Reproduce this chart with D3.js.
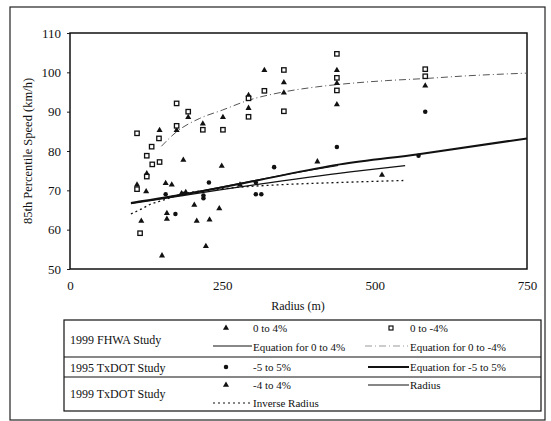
<!DOCTYPE html>
<meta charset="utf-8">
<style>
body { margin: 0; background: #fff; }
text { font-family: "Liberation Serif", "DejaVu Serif", serif; fill: #111; }
</style>
<svg width="551" height="421"></svg>
<script src="https://d3js.org/d3.v7.min.js"></script>
<script>

// tick values
var xTicks = [0, 250, 500, 750];
var yTicks = [50, 60, 70, 80, 90, 100, 110];

// 1999 FHWA study, 0 to 4% (triangles)
var fhwaPos = [[110,71.4],[125,69.7],[117,62.2],[126,74.3],[147,85.3],[157,71.8],[167,71.4],
  [159,64.2],[159,62.7],[151,53.4],[175,85.3],[186,77.7],[194,88.6],[204,66.3],[208,62.2],
  [218,86.9],[223,55.8],[229,62.5],[245,65.4],[249,76.2],[251,88.6],[293,94.2],[293,90.9],
  [319,100.5],[351,97.4],[351,94.8],[438,100.5],[438,91.8],[583,96.6]];

// 1999 FHWA study, 0 to -4% (open squares)
var fhwaNeg = [[110,84.5],[110,70.3],[115,59.1],[126,78.8],[126,73.5],[134,81.1],[135,76.6],
  [146,83.2],[147,77.2],[175,92.1],[175,86.4],[194,90.0],[218,85.4],[251,85.4],[293,93.4],
  [293,88.7],[319,95.3],[351,100.6],[351,90.1],[438,104.7],[438,98.6],[438,95.4],
  [583,100.8],[583,99.0]];

// 1995 TxDOT study, -5 to 5% (dots)
var txdot95 = [[157,69.0],[173,64.0],[185,69.1],[219,68.7],[219,68.0],[228,72.0],[305,72.0],
  [305,69.0],[314,69.0],[335,75.9],[438,81.0],[572,78.8],[583,90.0]];

// 1999 TxDOT study, -4 to 4% (triangles)
var txdot99 = [[183,69.2],[190,69.5],[279,71.4],[406,77.3],[512,73.9],[438,97.2]];

// fitted curves
var eqNeg4 = [[150,81.2],[175,84.9],[213,88.3],[250,90.4],[293,92.9],[350,95.0],[405,96.3],
  [460,97.2],[520,97.9],[580,98.4],[650,99.1],[750,99.8]];
var eqPos4 = [[130,67.4],[250,70.9],[350,73.9],[440,76.3]];
var eq55 = [[100,66.8],[200,69.3],[300,72.3],[443,76.6],[572,79.2],[750,83.2]];
var radiusEq = [[100,66.6],[246,70.1],[460,74.7],[550,76.3]];
var invRadiusEq = [[100,64.0],[119,65.4],[131,66.4],[145,67.1],[183,69.0],[250,70.4],
  [356,71.5],[443,72.0],[547,72.5]];

var svg = d3.select("svg");

// outer frame
svg.append("rect")
    .attr("x", 10).attr("y", 7).attr("width", 535).attr("height", 413)
    .attr("fill", "none").attr("stroke", "#222").attr("stroke-width", 1.2);

var x = d3.scaleLinear().domain([0, 750]).range([70, 527]);
var y = d3.scaleLinear().domain([50, 110]).range([269, 33]);

// axes
svg.append("g")
    .attr("transform", "translate(70,0)")
    .call(d3.axisLeft(y).tickValues(yTicks).tickSize(3).tickPadding(6))
    .call(function(g) {
      g.select(".domain").remove();
      g.selectAll("line").attr("stroke", "#222");
      g.selectAll("text").style("font-size", "13px").attr("fill", "#111");
    });

svg.append("g")
    .attr("transform", "translate(0,269)")
    .call(d3.axisBottom(x).tickValues(xTicks).tickSize(0).tickPadding(12))
    .call(function(g) {
      g.select(".domain").remove();
      g.selectAll("text").style("font-size", "13px").attr("fill", "#111");
    });

svg.append("rect")
    .attr("x", 70).attr("y", 33).attr("width", 457).attr("height", 236)
    .attr("fill", "none").attr("stroke", "#111").attr("stroke-width", 1.5);

svg.append("text")
    .attr("transform", "translate(32,151) rotate(-90)")
    .attr("text-anchor", "middle")
    .style("font-size", "12.5px")
    .text("85th Percentile Speed (km/h)");

svg.append("text")
    .attr("x", 298).attr("y", 310)
    .attr("text-anchor", "middle")
    .style("font-size", "12px")
    .text("Radius (m)");

// lines
var line = d3.line()
    .x(function(d) { return x(d[0]); })
    .y(function(d) { return y(d[1]); })
    .curve(d3.curveMonotoneX);

svg.append("path").datum(eqNeg4).attr("d", line)
    .attr("fill", "none").attr("stroke", "#555").attr("stroke-width", 1)
    .attr("stroke-dasharray", "7,3,1,3");
svg.append("path").datum(eqPos4).attr("d", line)
    .attr("fill", "none").attr("stroke", "#111").attr("stroke-width", 1);
svg.append("path").datum(eq55).attr("d", line)
    .attr("fill", "none").attr("stroke", "#111").attr("stroke-width", 2);
svg.append("path").datum(radiusEq).attr("d", line)
    .attr("fill", "none").attr("stroke", "#111").attr("stroke-width", 1.2);
svg.append("path").datum(invRadiusEq).attr("d", line)
    .attr("fill", "none").attr("stroke", "#111").attr("stroke-width", 1.3)
    .attr("stroke-dasharray", "2,3");

// markers
var tri = d3.symbol().type(d3.symbolTriangle).size(16);
var dot = d3.symbol().type(d3.symbolCircle).size(16);

function triangles(data) {
  svg.append("g").selectAll("path").data(data).enter().append("path")
      .attr("d", tri)
      .attr("transform", function(d) { return "translate(" + x(d[0]) + "," + y(d[1]) + ")"; })
      .attr("fill", "#111");
}
triangles(fhwaPos);
triangles(txdot99);

svg.append("g").selectAll("rect").data(fhwaNeg).enter().append("rect")
    .attr("x", function(d) { return x(d[0]) - 2.2; })
    .attr("y", function(d) { return y(d[1]) - 2.2; })
    .attr("width", 4.4).attr("height", 4.4)
    .attr("fill", "#fff").attr("stroke", "#111").attr("stroke-width", 1.3);

svg.append("g").selectAll("path").data(txdot95).enter().append("path")
    .attr("d", dot)
    .attr("transform", function(d) { return "translate(" + x(d[0]) + "," + y(d[1]) + ")"; })
    .attr("fill", "#111");

// legend table
var lg = svg.append("g");
lg.append("rect").attr("x", 64).attr("y", 320).attr("width", 477).attr("height", 91)
    .attr("fill", "none").attr("stroke", "#111").attr("stroke-width", 1.2);
lg.append("line").attr("x1", 64).attr("x2", 541).attr("y1", 357).attr("y2", 357)
    .attr("stroke", "#111").attr("stroke-width", 1.2);
lg.append("line").attr("x1", 64).attr("x2", 541).attr("y1", 377).attr("y2", 377)
    .attr("stroke", "#111").attr("stroke-width", 1.2);

var studies = ["1999 FHWA Study", "1995 TxDOT Study", "1999 TxDOT Study"];
var studyY = [340, 368, 394];
lg.selectAll("text.study").data(studies).enter().append("text")
    .attr("x", 70).attr("y", function(d, i) { return studyY[i]; })
    .attr("dy", "0.35em")
    .style("font-size", "12px")
    .text(function(d) { return d; });

function legText(tx, ty, s) {
  lg.append("text").attr("x", tx).attr("y", ty).attr("dy", "0.35em")
      .style("font-size", "11px").text(s);
}

var col1 = 253, col2 = 410;
// row 1
lg.append("path").attr("d", tri).attr("transform", "translate(226,328)").attr("fill", "#111");
legText(col1, 328, "0 to 4%");
lg.append("rect").attr("x", 389).attr("y", 326).attr("width", 4).attr("height", 4)
    .attr("fill", "#fff").attr("stroke", "#111").attr("stroke-width", 1.2);
legText(col2, 328, "0 to -4%");
// row 2
lg.append("line").attr("x1", 213).attr("x2", 252).attr("y1", 346).attr("y2", 346)
    .attr("stroke", "#111").attr("stroke-width", 1);
legText(col1, 347, "Equation for 0 to 4%");
lg.append("line").attr("x1", 365).attr("x2", 408).attr("y1", 346).attr("y2", 346)
    .attr("stroke", "#999").attr("stroke-width", 1).attr("stroke-dasharray", "7,3,1,3");
legText(col2, 347, "Equation for 0 to -4%");
// row 3
lg.append("path").attr("d", dot).attr("transform", "translate(226,367)").attr("fill", "#111");
legText(col1, 367, "-5 to 5%");
lg.append("line").attr("x1", 368).attr("x2", 409).attr("y1", 367).attr("y2", 367)
    .attr("stroke", "#111").attr("stroke-width", 2);
legText(col2, 367, "Equation for -5 to 5%");
// row 4
lg.append("path").attr("d", tri).attr("transform", "translate(226,385)").attr("fill", "#111");
legText(col1, 385, "-4 to 4%");
lg.append("line").attr("x1", 368).attr("x2", 409).attr("y1", 385).attr("y2", 385)
    .attr("stroke", "#111").attr("stroke-width", 1.2);
legText(col2, 385, "Radius");
// row 5
lg.append("line").attr("x1", 213).attr("x2", 252).attr("y1", 403).attr("y2", 403)
    .attr("stroke", "#111").attr("stroke-width", 1.2).attr("stroke-dasharray", "2,3");
legText(col1, 403, "Inverse Radius");

</script>
